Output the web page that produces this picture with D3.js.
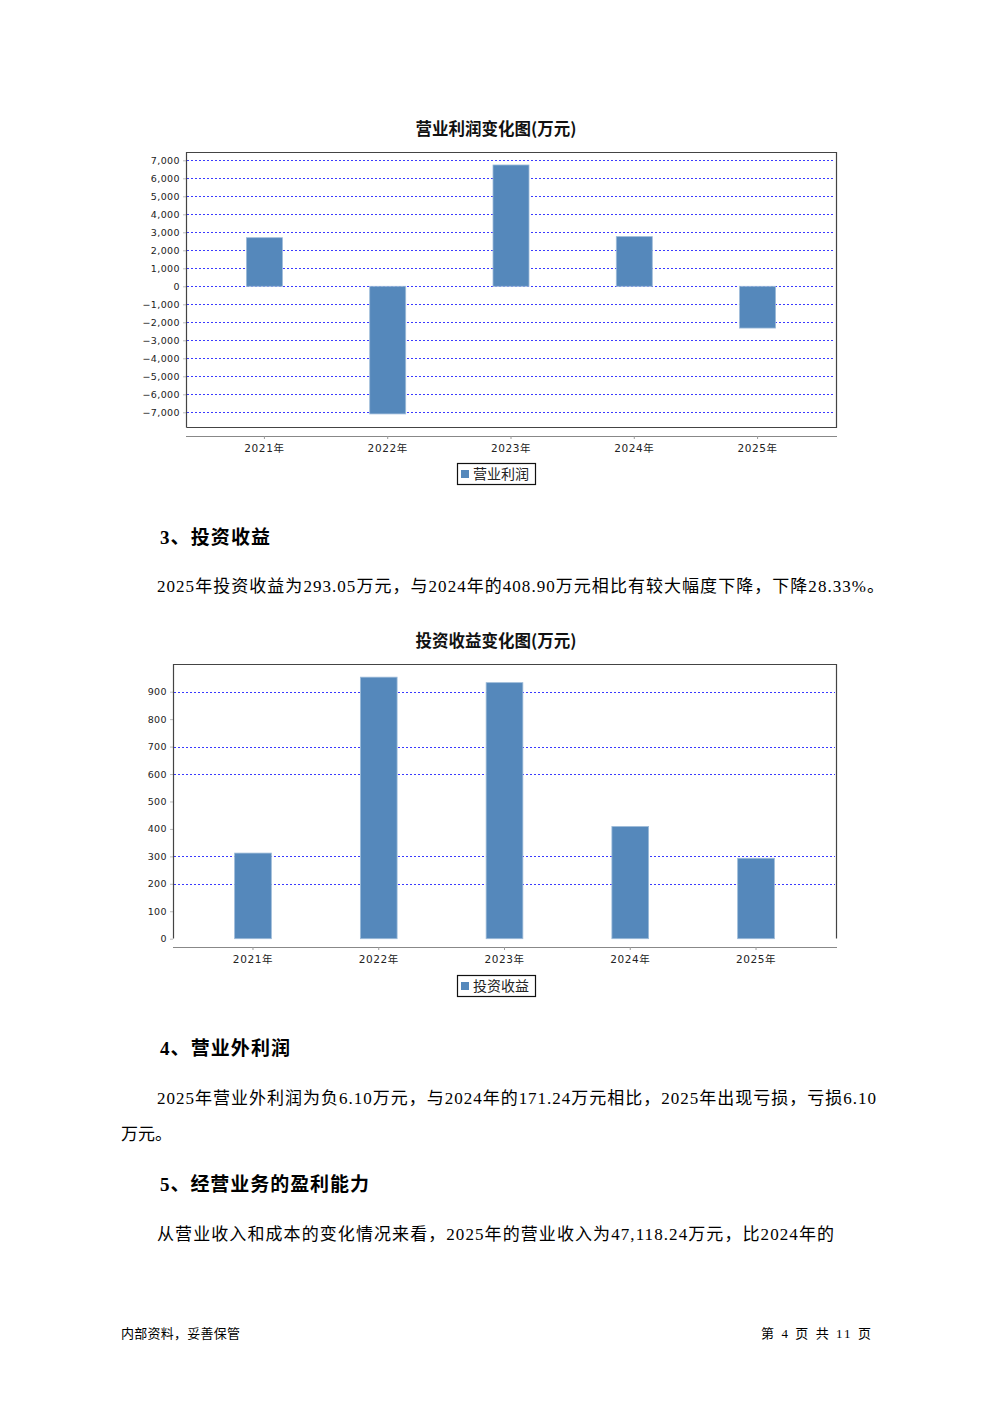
<!DOCTYPE html>
<html>
<head>
<meta charset="utf-8">
<script src="https://cdn.jsdelivr.net/npm/d3@7/dist/d3.min.js"></script>
<style>
  html, body { margin: 0; padding: 0; background: #fff; }
  svg { display: block; }
</style>
</head>
<body>
<script>
// ---------- data ----------
const years = ["2021年", "2022年", "2023年", "2024年", "2025年"];
const opProfit = [2700, -7090, 6740, 2760, -2320];           // 营业利润 (万元)
const opTicks = [7000, 6000, 5000, 4000, 3000, 2000, 1000, 0, -1000, -2000, -3000, -4000, -5000, -6000, -7000];
const invIncome = [312, 953, 933, 408.90, 293.05];            // 投资收益 (万元)
const invTicks = [0, 100, 200, 300, 400, 500, 600, 700, 800, 900];
const invGrid = [200, 300, 600, 700, 900];                    // gridlines visible in the original

const W = 992, H = 1403;
const svg = d3.select("body").append("svg").attr("width", W).attr("height", H);

const BAR = "#5588bb", BAR_EDGE = "#9dbbd9", GRID = "#3a3aff";
const SERIF_CJK = "'Liberation Serif', 'Times New Roman', 'Noto Sans CJK SC', serif";

function chart(opt) {
  const g = svg.append("g");
  const x = d3.scaleBand().domain(years).range([opt.x0, opt.x1]).paddingInner(0.708).paddingOuter(0.49);
  const y = d3.scaleLinear().domain(opt.domain).range(opt.range);

  // title
  g.append("text").attr("x", 496).attr("y", opt.titleY).attr("text-anchor", "middle")
    .attr("font-family", "'Noto Sans CJK SC', sans-serif").attr("font-weight", "bold")
    .attr("font-size", 16.5).attr("fill", "#111").text(opt.title);

  // gridlines
  g.append("g").selectAll("line").data(opt.grid).join("line")
    .attr("x1", opt.x0 + 1).attr("x2", opt.x1 - 1)
    .attr("y1", d => Math.round(y(d)) + 0.5).attr("y2", d => Math.round(y(d)) + 0.5)
    .attr("stroke", GRID).attr("stroke-width", 1).attr("stroke-dasharray", "2,2");

  // bars
  g.append("g").selectAll("rect").data(opt.values).join("rect")
    .attr("x", (d, i) => x(years[i]))
    .attr("width", x.bandwidth())
    .attr("y", d => y(Math.max(0, d)))
    .attr("height", d => Math.abs(y(d) - y(0)))
    .attr("fill", BAR).attr("stroke", BAR_EDGE).attr("stroke-width", 0.8);

  // y axis
  const yAxis = d3.axisLeft(y).tickValues(opt.ticks).tickSize(3).tickPadding(3)
    .tickFormat(d3.format(","));
  const ya = g.append("g").attr("transform", `translate(${opt.x0},0)`).call(yAxis);
  ya.select(".domain").remove();
  ya.selectAll(".tick line").attr("stroke", "#bbb");
  ya.selectAll(".tick text").attr("font-family", "'DejaVu Sans', sans-serif")
    .attr("font-size", 9.5).attr("fill", "#222").attr("letter-spacing", 0.4);

  // plot border
  const bx0 = opt.x0 + 0.5, bx1 = opt.x1 + 0.5, by0 = opt.top + 0.5, by1 = opt.bottom + 0.5;
  let path = `M${bx0},${by1} L${bx0},${by0} L${bx1},${by0} L${bx1},${by1}`;
  if (opt.bottomBorder) path += ` L${bx0},${by1}`;
  g.append("path").attr("d", path).attr("fill", "none").attr("stroke", "#444").attr("stroke-width", 1.2);

  // x axis
  const xAxis = d3.axisBottom(x).tickSize(3).tickPadding(6).tickSizeOuter(0);
  const xa = g.append("g").attr("transform", `translate(0,${opt.xAxisY})`).call(xAxis);
  xa.select(".domain").attr("stroke", "#888").attr("stroke-width", 1.2)
    .attr("d", `M${opt.x0},0.5H${opt.x1 + 1}`);
  xa.selectAll(".tick line").attr("stroke", "#999");
  xa.selectAll(".tick text").attr("font-family", "'DejaVu Sans', 'Noto Sans CJK SC', sans-serif")
    .attr("font-size", 10.5).attr("fill", "#222").attr("letter-spacing", 0.6);

  // legend
  const lg = g.append("g");
  lg.append("rect").attr("x", 457.5).attr("y", opt.legendY + 0.5).attr("width", 78).attr("height", 21)
    .attr("fill", "#fff").attr("stroke", "#111").attr("stroke-width", 1.2);
  lg.append("rect").attr("x", 461).attr("y", opt.legendY + 7).attr("width", 8).attr("height", 8).attr("fill", BAR);
  lg.append("text").attr("x", 473).attr("y", opt.legendY + 16).attr("font-family", "'Noto Sans CJK SC', sans-serif")
    .attr("font-size", 14).attr("fill", "#222").text(opt.legend);
}

chart({
  title: "营业利润变化图(万元)", titleY: 135,
  x0: 186, x1: 836, top: 152, bottom: 427, bottomBorder: true,
  domain: [-7000, 7000], range: [412.3, 160.3],
  ticks: opTicks, grid: opTicks, values: opProfit,
  xAxisY: 436, legendY: 463, legend: "营业利润"
});

chart({
  title: "投资收益变化图(万元)", titleY: 647,
  x0: 173, x1: 836, top: 664, bottom: 938, bottomBorder: false,
  domain: [0, 900], range: [938.7, 691.7],
  ticks: invTicks, grid: invGrid, values: invIncome,
  xAxisY: 947, legendY: 975, legend: "投资收益"
});

// ---------- text ----------
const T = svg.append("g").attr("fill", "#000");
function line(x, y, s, size, len, bold) {
  const t = T.append("text").attr("x", x).attr("y", y).attr("font-size", size)
    .attr("font-family", SERIF_CJK).text(s);
  if (bold) t.attr("font-weight", "bold");
  if (len) t.attr("textLength", len).attr("lengthAdjust", "spacing");
  return t;
}
line(160, 544, "3、投资收益", 19, 110, true);
line(157, 592, "2025年投资收益为293.05万元，与2024年的408.90万元相比有较大幅度下降，下降28.33%。", 17, 727);
line(160, 1055, "4、营业外利润", 19, 130, true);
line(157, 1104, "2025年营业外利润为负6.10万元，与2024年的171.24万元相比，2025年出现亏损，亏损6.10", 17, 719);
line(121, 1140, "万元。", 17, null);
line(160, 1191, "5、经营业务的盈利能力", 19, 209, true);
line(157, 1240, "从营业收入和成本的变化情况来看，2025年的营业收入为47,118.24万元，比2024年的", 17, 677);

// footer
line(121, 1338, "内部资料，妥善保管", 13, 119);
line(761, 1338, "第 4 页  共 11 页", 13, 110);
</script>
</body>
</html>
